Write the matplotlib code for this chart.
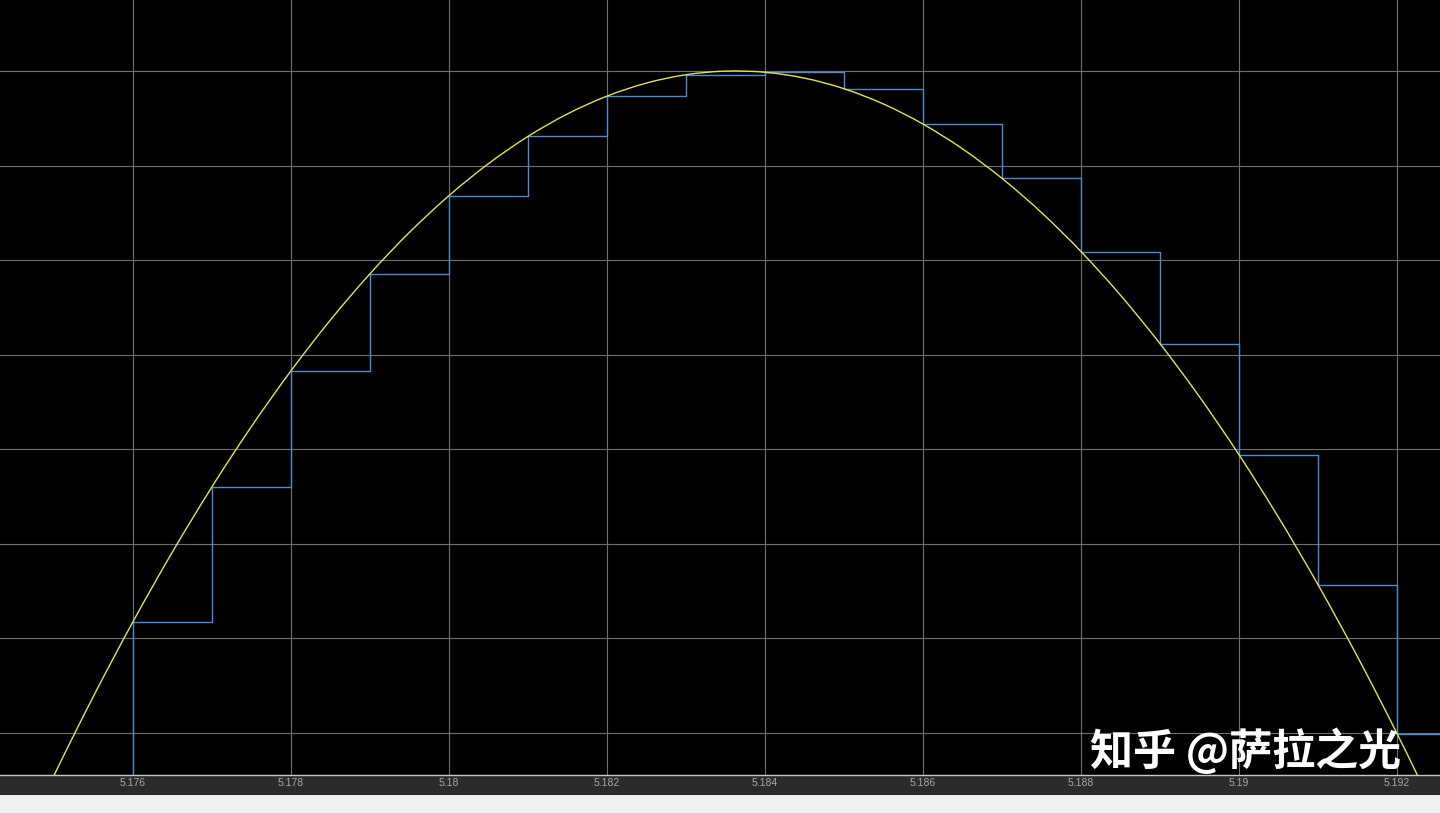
import matplotlib
matplotlib.use("Agg")
import matplotlib.pyplot as plt
from matplotlib.patches import Rectangle, PathPatch
from matplotlib.path import Path

# Continuous (yellow) signal, read at 0.0005 s spacing
t_curve = [5.1740, 5.1745, 5.1750, 5.1755, 5.1760, 5.1765, 5.1770, 5.1775,
           5.1780, 5.1785, 5.1790, 5.1795, 5.1800, 5.1805, 5.1810, 5.1815,
           5.1820, 5.1825, 5.1830, 5.1835, 5.1840, 5.1845, 5.1850, 5.1855,
           5.1860, 5.1865, 5.1870, 5.1875, 5.1880, 5.1885, 5.1890, 5.1895,
           5.1900, 5.1905, 5.1910, 5.1915, 5.1920, 5.1925, 5.1930]
y_curve = [-1.274, -0.336, 0.552, 1.390, 2.178, 2.916, 3.604, 4.242,
           4.830, 5.368, 5.856, 6.294, 6.682, 7.020, 7.308, 7.546,
           7.734, 7.872, 7.960, 7.998, 7.986, 7.924, 7.812, 7.650,
           7.438, 7.176, 6.864, 6.502, 6.090, 5.628, 5.116, 4.554,
           3.942, 3.280, 2.568, 1.806, 0.994, 0.132, -0.780]

# Sampled-and-held (blue) signal, one sample per 0.001 s
t_samp = [5.174, 5.175, 5.176, 5.177, 5.178, 5.179, 5.180, 5.181, 5.182,
          5.183, 5.184, 5.185, 5.186, 5.187, 5.188, 5.189, 5.190, 5.191,
          5.192, 5.193]
y_samp = [-1.274, 0.45, 2.178, 3.604, 4.830, 5.856, 6.682, 7.308, 7.734,
          7.960, 7.986, 7.812, 7.438, 6.864, 6.090, 5.116, 3.942, 2.568,
          0.994, -0.780]

x_ticks = [5.176, 5.178, 5.180, 5.182, 5.184, 5.186, 5.188, 5.190, 5.192]
x_tick_labels = ["5.176", "5.178", "5.18", "5.182", "5.184", "5.186",
                 "5.188", "5.19", "5.192"]
y_grid = [1, 2, 3, 4, 5, 6, 7, 8]

W, H = 1440, 813
fig = plt.figure(figsize=(W / 100, H / 100), dpi=100, facecolor="#f0f0f0")

# dark strip holding the tick labels (behind the axes)
fig.patches.append(Rectangle((0, (H - 795) / H), 1, 21 / H,
                             transform=fig.transFigure, facecolor="#2b2b2b",
                             edgecolor="none", zorder=-5))

ax = fig.add_axes([0, (H - 775) / H, 1, 775 / H])
ax.set_facecolor("black")

ax.step(t_samp, y_samp, where="post", color="#4d8ad6", lw=1.0, zorder=3)


def smooth_path(xs, ys):
    """Catmull-Rom curve through the points, as cubic Bezier segments."""
    verts = [(xs[0], ys[0])]
    codes = [Path.MOVETO]
    n = len(xs)
    for i in range(n - 1):
        x0, y0 = (xs[i - 1], ys[i - 1]) if i > 0 else (xs[i], ys[i])
        x1, y1 = xs[i], ys[i]
        x2, y2 = xs[i + 1], ys[i + 1]
        x3, y3 = (xs[i + 2], ys[i + 2]) if i + 2 < n else (x2, y2)
        c1 = (x1 + (x2 - x0) / 6, y1 + (y2 - y0) / 6)
        c2 = (x2 - (x3 - x1) / 6, y2 - (y3 - y1) / 6)
        verts += [c1, c2, (x2, y2)]
        codes += [Path.CURVE4] * 3
    return Path(verts, codes)


ax.add_patch(PathPatch(smooth_path(t_curve, y_curve), fill=False,
                       edgecolor="#e3e35a", lw=1.0, zorder=4))

ax.set_xlim(5.174316, 5.192544)
ax.set_ylim(0.556, 8.75)
ax.set_xticks(x_ticks)
ax.set_xticklabels(x_tick_labels)
ax.set_yticks(y_grid)
ax.set_yticklabels([])
ax.grid(True, color="#707070", lw=0.8)
ax.tick_params(axis="both", length=0)
ax.tick_params(axis="x", colors="#a8a8a8", labelsize=7.5, pad=2.5)
for lab in ax.get_xticklabels():
    lab.set_family(["Liberation Sans", "DejaVu Sans"])
for s in ["top", "left", "right"]:
    ax.spines[s].set_visible(False)
ax.spines["bottom"].set_color("#c8c8c8")
ax.spines["bottom"].set_linewidth(1.0)

fig.text(1090 / W, 1 - 751 / H, "知乎 @萨拉之光", color="white",
         fontsize=31, family=["Noto Sans CJK SC", "DejaVu Sans"],
         ha="left", va="center", weight="bold", zorder=10)

fig.savefig("out.png", dpi=100, facecolor=fig.get_facecolor())
